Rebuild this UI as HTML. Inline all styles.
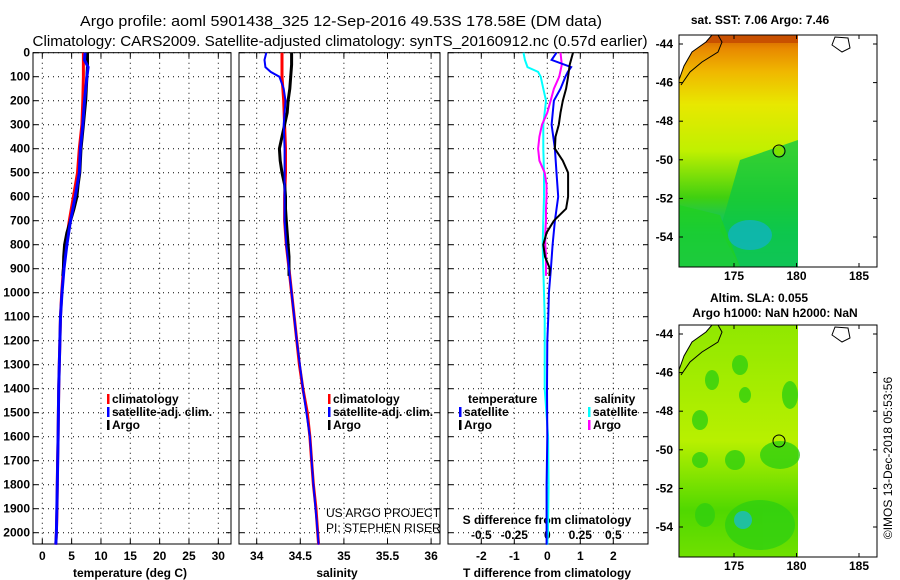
<!DOCTYPE html>
<html><head><meta charset="utf-8"><style>
html,body{margin:0;padding:0;background:#fff;}
svg{display:block;font-family:"Liberation Sans",sans-serif;}
.tk{font-size:12px;font-weight:bold;fill:#000;}
.lg{font-size:12px;font-weight:bold;}
</style></head><body>
<svg id="fig" width="900" height="580" viewBox="0 0 900 580">
<text x="341" y="26" text-anchor="middle" font-size="15" textLength="522" lengthAdjust="spacingAndGlyphs">Argo profile: aoml 5901438_325 12-Sep-2016 49.53S 178.58E (DM data)</text>
<text x="340" y="46" text-anchor="middle" font-size="15" textLength="615" lengthAdjust="spacingAndGlyphs">Climatology: CARS2009. Satellite-adjusted climatology: synTS_20160912.nc (0.57d earlier)</text>
<g id="maps">
<defs>
<linearGradient id="sst" x1="0" y1="0" x2="0" y2="1">
<stop offset="0" stop-color="#d05c00"/><stop offset="0.06" stop-color="#e88a00"/><stop offset="0.16" stop-color="#f0b800"/><stop offset="0.3" stop-color="#e8e800"/><stop offset="0.5" stop-color="#c0f000"/><stop offset="0.7" stop-color="#40d010"/><stop offset="0.85" stop-color="#00c080"/><stop offset="1" stop-color="#10b8b0"/>
</linearGradient>
<linearGradient id="sla" x1="0" y1="0" x2="0" y2="1">
<stop offset="0" stop-color="#90e800"/><stop offset="0.5" stop-color="#b8f000"/><stop offset="0.8" stop-color="#50d800"/><stop offset="1" stop-color="#70e000"/>
</linearGradient>
</defs>
<rect x="679" y="35" width="119" height="232" fill="url(#sst)"/>
<polygon points="740,160 798,140 798,267 740,267 720,230" fill="#10c840" opacity="0.8"/>
<polygon points="679,205 720,215 740,267 679,267" fill="#20d020" opacity="0.8"/>
<ellipse cx="750" cy="235" rx="22" ry="15" fill="#10b0d0" opacity="0.7"/>
<rect x="679" y="35" width="119" height="8" fill="#c85000"/>
<polygon points="679,35 712,35 706,42 692,52 684,66 679,80" fill="#fff"/>
<rect x="679" y="325" width="119" height="232" fill="url(#sla)"/>
<g fill="#30d010" opacity="0.8">
<ellipse cx="740" cy="365" rx="8" ry="10"/><ellipse cx="712" cy="380" rx="7" ry="10"/><ellipse cx="745" cy="395" rx="6" ry="8"/><ellipse cx="790" cy="395" rx="8" ry="14"/><ellipse cx="700" cy="420" rx="8" ry="10"/><ellipse cx="735" cy="460" rx="10" ry="10"/><ellipse cx="780" cy="455" rx="20" ry="14"/><ellipse cx="700" cy="460" rx="8" ry="8"/><ellipse cx="760" cy="525" rx="35" ry="25"/><ellipse cx="705" cy="515" rx="10" ry="12"/>
</g>
<ellipse cx="743" cy="520" rx="9" ry="9" fill="#20c0a0"/>
<polygon points="679,325 712,325 706,332 692,342 684,356 679,370" fill="#fff"/>
<g fill="none" stroke="#000" stroke-width="1">
<path d="M679,80 L684,66 L692,52 L706,42 L712,35"/>
<path d="M681,85 L690,72 L702,62 L718,52 L722,42 L718,35"/>
<path d="M835,37 L832,45 L842,52 L850,48 L848,38 Z"/>
<path d="M679,370 L684,356 L692,342 L706,332 L712,325"/>
<path d="M681,375 L690,362 L702,352 L718,342 L722,332 L718,325"/>
<path d="M835,327 L832,335 L842,342 L850,338 L848,328 Z"/>
<circle cx="779" cy="441" r="6"/>
<rect x="679" y="35" width="198" height="232"/>
<rect x="679" y="325" width="198" height="232"/>
</g>
<circle cx="779" cy="151" r="5" fill="#80e000"/><circle cx="779" cy="151" r="6" fill="none" stroke="#000"/>
<text x="760" y="24" text-anchor="middle" class="tk">sat. SST: 7.06 Argo: 7.46</text>
<text x="759" y="302" text-anchor="middle" class="tk">Altim. SLA: 0.055</text>
<text x="775" y="317" text-anchor="middle" class="tk">Argo h1000: NaN h2000: NaN</text>
<text transform="translate(892,458) rotate(-90)" text-anchor="middle" font-size="12">©IMOS 13-Dec-2018 05:53:56</text>
</g>
<g id="plots"></g>
</svg>
<script>
// ---- data ----
const depthTicks=[0,100,200,300,400,500,600,700,800,900,1000,1100,1200,1300,1400,1500,1600,1700,1800,1900,2000];
const tTicks=[0,5,10,15,20,25,30];
const sTicks=[34,34.5,35,35.5,36];
const dTTicks=[-2,-1,0,1,2];
const dSTicks=[-0.5,-0.25,0,0.25,0.5];
const dSLabels=["-0.5","-0.25","0","0.25","0.5"];
const climDepth=[0,100,200,300,400,500,600,700,800,900,1000,1100,1200,1300,1400,1500,1600,1700,1800,1900,2000,2050];
const climT=[7.0,7.0,6.9,6.75,6.3,6.0,5.3,4.6,4.0,3.6,3.3,3.1,3.0,2.9,2.8,2.75,2.7,2.6,2.55,2.5,2.4,2.3];
const climS=[34.29,34.29,34.31,34.32,34.33,34.33,34.32,34.32,34.34,34.37,34.40,34.43,34.46,34.49,34.53,34.58,34.61,34.63,34.65,34.68,34.70,34.71];
const satDepth=[0,30,60,80,100,150,200,300,400,500,600,700,800,900,1000,1100,1200,1400,1600,1800,2000,2050];
const satT=[7.3,7.2,7.8,7.7,7.6,7.4,7.2,6.9,6.5,6.3,5.6,4.8,4.2,3.7,3.35,3.1,3.0,2.8,2.7,2.55,2.4,2.3];
const satS=[34.11,34.09,34.10,34.16,34.26,34.31,34.33,34.31,34.32,34.32,34.32,34.32,34.34,34.37,34.40,34.43,34.46,34.53,34.61,34.65,34.70,34.71];
const argoDepth=[0,50,100,150,200,250,300,350,400,450,500,550,600,650,700,750,800,850,900,930];
const argoT=[7.7,7.7,7.6,7.5,7.4,7.2,7.0,6.8,6.6,6.5,6.4,6.1,5.9,5.4,4.8,4.2,3.8,3.65,3.6,3.5];
const argoS=[34.40,34.40,34.39,34.38,34.36,34.35,34.32,34.29,34.26,34.27,34.29,34.32,34.33,34.33,34.34,34.35,34.36,34.37,34.37,34.37];
const dTsat=[0.28,0.13,0.72,0.62,0.55,0.4,0.2,0.13,0.23,0.28,0.33,0.23,0.16,0.11,0.05,0.03,0.0,-0.01,0.0,-0.02,-0.02,-0.02];
const dSsat=[-0.18,-0.17,-0.15,-0.07,-0.05,-0.03,-0.01,-0.03,-0.03,-0.025,-0.025,-0.03,-0.035,-0.03,-0.025,-0.02,-0.02,-0.02,0.006,0.01,0.005,0.0];
const dTargo=[0.78,0.68,0.63,0.57,0.47,0.4,0.35,0.25,0.23,0.47,0.63,0.63,0.63,0.57,0.2,-0.02,-0.12,-0.07,0.08,0.06];
const dSargo=[0.10,0.11,0.09,0.05,0.025,0.0,-0.04,-0.06,-0.07,-0.06,-0.02,-0.006,-0.006,-0.01,-0.01,-0.015,-0.015,-0.01,-0.01,-0.01];

const NS='http://www.w3.org/2000/svg';
const G=document.getElementById('plots');
const TOP=52.7,BOT=544;
const yD=d=>TOP+d*0.24;
const xT=t=>42.3+t*5.867;
const xS=s=>256.7+(s-34)*87.2;
const xDT=v=>547.3+v*33;
const xDS=v=>547.3+v*132;
function mk(tag,at,parent){const e=document.createElementNS(NS,tag);for(const k in at)e.setAttribute(k,at[k]);(parent||G).appendChild(e);return e;}
function line(xs,ds,fx,col,name,w){
  let p='';for(let i=0;i<xs.length;i++)p+=(i?'L':'M')+fx(xs[i]).toFixed(1)+','+yD(ds[i]).toFixed(1);
  const e=mk('path',{d:p,fill:'none',stroke:col,'stroke-width':w||2});
  
  
}
function txt(x,y,s,cls,anchor,name){const e=mk('text',{x:x,y:y,'class':cls,'text-anchor':anchor||'middle'});e.textContent=s;
  
  
  return e;}
function panel(x0,x1,vticks,fx,name){
  const f=mk('rect',{x:x0,y:TOP,width:x1-x0,height:BOT-TOP,fill:'#fff',stroke:'#000','stroke-width':1});
  
  
  depthTicks.forEach(d=>{mk('line',{x1:x0,x2:x1,y1:yD(d),y2:yD(d),stroke:'#000','stroke-width':1,'stroke-dasharray':'1,4'});
    mk('line',{x1:x0,x2:x0+5,y1:yD(d),y2:yD(d),stroke:'#000'});mk('line',{x1:x1-5,x2:x1,y1:yD(d),y2:yD(d),stroke:'#000'});});
  vticks.forEach(v=>{const x=fx(v);mk('line',{x1:x,x2:x,y1:TOP,y2:BOT,stroke:'#000','stroke-width':1,'stroke-dasharray':'1,4'});
    mk('line',{x1:x,x2:x,y1:TOP,y2:TOP+5,stroke:'#000'});mk('line',{x1:x,x2:x,y1:BOT-5,y2:BOT,stroke:'#000'});});
}
// panel 1 temperature
panel(33,231,tTicks,xT,'temperature-panel');
depthTicks.forEach(d=>txt(30,yD(d)+4,String(d),'tk','end','depth-tick-label'));
tTicks.forEach(t=>txt(xT(t),560,String(t),'tk','middle','temperature-tick-label'));
txt(130,577,'temperature (deg C)','tk','middle','temperature-axis-title');
line(climT,climDepth,xT,'#f00','temperature-climatology-line',3);
line(argoT,argoDepth,xT,'#000','temperature-argo-line',3);
line(satT,satDepth,xT,'#00f','temperature-satellite-line',3);
// panel 2 salinity
panel(239,440,sTicks,xS,'salinity-panel');
sTicks.forEach(s=>txt(xS(s),560,String(s),'tk','middle','salinity-tick-label'));
txt(337,577,'salinity','tk','middle','salinity-axis-title');
line(climS,climDepth,xS,'#f00','salinity-climatology-line',3);
line(argoS,argoDepth,xS,'#000','salinity-argo-line',3);
line(satS,satDepth,xS,'#00f','salinity-satellite-line',2);
// panel 3 differences
panel(448,648,dTTicks,xDT,'difference-panel');
dTTicks.forEach(v=>txt(xDT(v),560,String(v),'tk','middle','t-diff-tick-label'));
txt(547,577,'T difference from climatology','tk','middle','t-diff-axis-title');
dSTicks.forEach((v,i)=>txt(xDS(v),539,dSLabels[i],'tk','middle','s-diff-tick-label'));
txt(547,524,'S difference from climatology','tk','middle','s-diff-axis-title');
line(dSsat,satDepth,xDS,'#0ff','s-diff-satellite-line',2);
line(dSargo,argoDepth,xDS,'#f0f','s-diff-argo-line',2);
line(dTsat,satDepth,xDT,'#00f','t-diff-satellite-line',2);
line(dTargo,argoDepth,xDT,'#000','t-diff-argo-line',2);
// legends
function leg(x,y,col,label,name){const r=mk('rect',{x:x,y:y-9,width:2.5,height:10,fill:col});
  
  
  txt(x+5,y,label,'lg','start',name);}
leg(107,403,'#f00','climatology','legend-t-climatology');
leg(107,416,'#00f','satellite-adj. clim.','legend-t-satellite');
leg(107,429,'#000','Argo','legend-t-argo');
leg(328,403,'#f00','climatology','legend-s-climatology');
leg(328,416,'#00f','satellite-adj. clim.','legend-s-satellite');
leg(328,429,'#000','Argo','legend-s-argo');
txt(468,403,'temperature','lg','start','legend-temperature-heading');
leg(459,416,'#00f','satellite','legend-dt-satellite');
leg(459,429,'#000','Argo','legend-dt-argo');
txt(594,403,'salinity','lg','start','legend-salinity-heading');
leg(588,416,'#0ff','satellite','legend-ds-satellite');
leg(588,429,'#f0f','Argo','legend-ds-argo');
const c1=txt(326,517,'US ARGO PROJECT','','start','project-credit');c1.setAttribute('font-size','12');
const c2=txt(326,532,'PI: STEPHEN RISER','','start','pi-credit');c2.setAttribute('font-size','12');
// map ticks
const latTicks=[-44,-46,-48,-50,-52,-54];
const lonTicks=[175,180,185];
const M=document.getElementById('maps');
[[44,280],[334,570]].forEach((m,k)=>{
  latTicks.forEach(l=>{const y=m[0]+(-44-l)*19.3;
    const t=txt(673,y+4,String(l),'tk','end','map-lat-label');M.appendChild(t);
    mk('line',{x1:877,x2:873,y1:y,y2:y,stroke:'#000'},M);mk('line',{x1:679,x2:683,y1:y,y2:y,stroke:'#000'},M);});
  lonTicks.forEach(l=>{const x=734+(l-175)*12.5;
    const t=txt(x,m[1],String(l),'tk','middle','map-lon-label');M.appendChild(t);
    const yb=k?557:267,yt=k?325:35;
    mk('line',{x1:x,x2:x,y1:yb,y2:yb-4,stroke:'#000'},M);mk('line',{x1:x,x2:x,y1:yt,y2:yt+4,stroke:'#000'},M);});
});
</script>
</body></html>
